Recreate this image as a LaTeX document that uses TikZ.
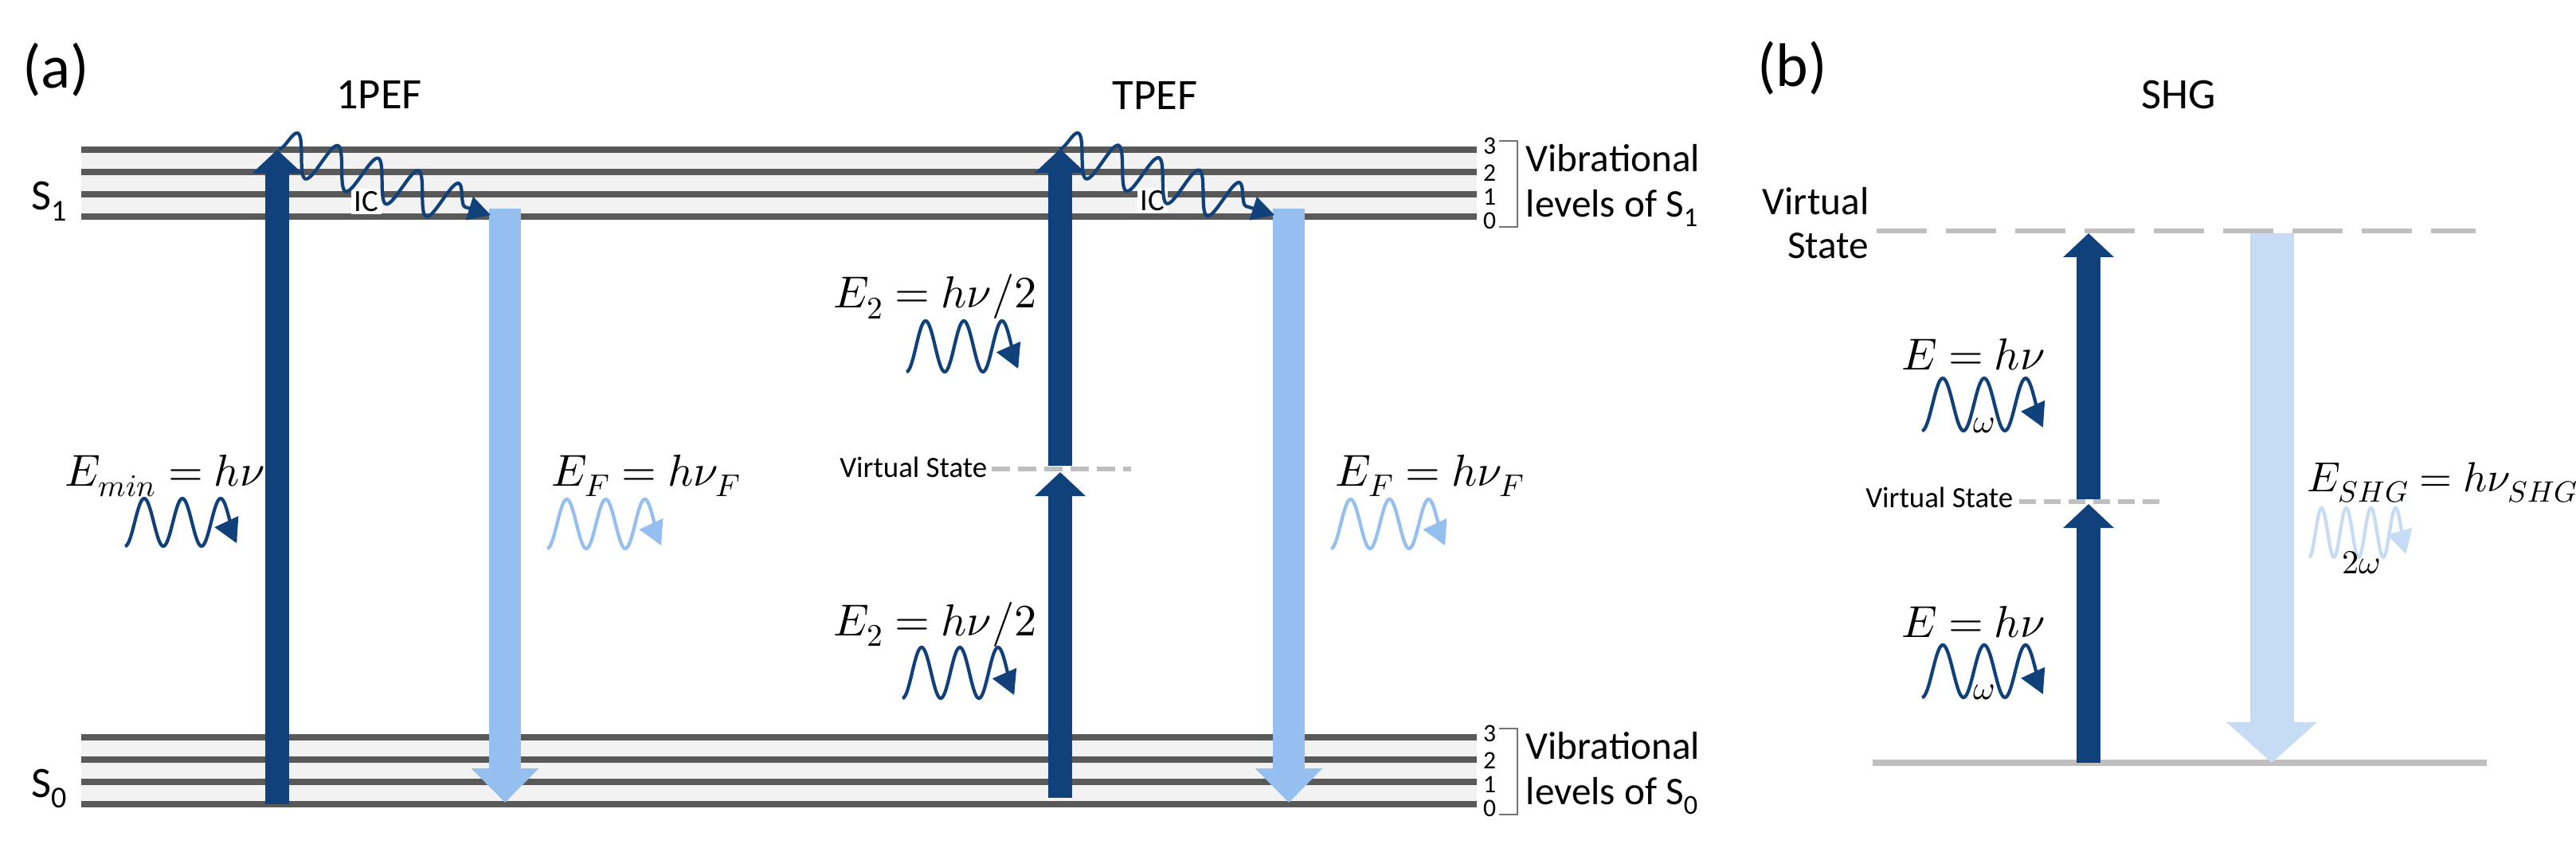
\documentclass[tikz,border=0pt]{standalone}
\usepackage{fontspec}
\usepackage{unicode-math}
\setmainfont{Carlito}
\setmathfont{Latin Modern Math}
\usepackage{tikz}
\usetikzlibrary{arrows.meta,positioning,decorations.pathmorphing}
\definecolor{cDark}{HTML}{11417A}
\definecolor{cLight}{HTML}{94BFEE}
\definecolor{cPale}{HTML}{C5DCF4}
\definecolor{cLevel}{HTML}{595959}
\definecolor{cStrip}{HTML}{F2F2F2}
\definecolor{cVirt}{HTML}{BFBFBF}
\AtBeginDocument{\thickmuskip=4.5mu\relax}
\tikzset{
  lvl/.style={cLevel, line width=2pt},
  pump/.style={cDark, line width=0.3cm, -{Triangle[length=0.3cm, width=0.62cm]}},
  emit/.style={cLight, line width=0.4cm, -{Triangle[length=0.43cm, width=0.82cm]}},
  emitshg/.style={cPale, line width=0.55cm, -{Triangle[length=0.51cm, width=1.11cm]}},
  virt/.style={cVirt, line width=1.5pt, dash pattern=on 0.23cm off 0.1cm},
  ic/.style={cDark, line width=1.2pt, decorate, decoration={snake, amplitude=0.26cm, segment length=0.53cm, post length=0.12cm}, -{Triangle[length=0.28cm, width=0.3cm]}},
  title/.style={inner sep=0pt, font=\fontsize{15.5}{18}\selectfont},
  eq/.style={inner sep=0pt, font=\fontsize{16}{19}\selectfont},
  vlab/.style={inner sep=0pt, font=\fontsize{10.5}{12}\selectfont},
  num/.style={inner sep=0pt, font=\fontsize{9}{10}\selectfont},
  vib/.style={inner sep=0pt, align=left, anchor=west, font=\fontsize{14}{16}\selectfont},
  brack/.style={black!55, line width=0.7pt},
  pics/photon/.style n args={4}{code={
    \draw[#4, line width=1.2pt, -{Triangle[length=0.3cm, width=0.32cm]}]
      plot[domain=0:#1, samples=90, smooth] ({#2*\x}, {-#3*cos(360*\x)});}},
}
\begin{document}
\begin{tikzpicture}
  \useasboundingbox (0,0) rectangle (32.34,10.59);
  \node[inner sep=0pt, font=\fontsize{22}{24}\selectfont] (pa) at (0.70,9.71) {(a)};
  \node[inner sep=0pt, font=\fontsize{22}{24}\selectfont] (pb) at (22.50,9.73) {(b)};
  \node[title] (t1) at (4.76,9.40) {1PEF};
  \node[title] (t2) at (14.50,9.39) {TPEF};
  \node[title] (t3) at (27.35,9.40) {SHG};

  \fill[cStrip] (1.02,7.87) rectangle (18.54,8.71);
  \fill[cStrip] (1.02,0.49) rectangle (18.54,1.33);
  \foreach \y in {8.71,8.43,8.15,7.87,1.33,1.05,0.77,0.49} \draw[lvl] (1.02,\y) -- (18.54,\y);
  \node[title, anchor=base east] (s1) at (0.86,7.95) {S\textsubscript{1}};
  \node[title, anchor=base east] (s0) at (0.86,0.58) {S\textsubscript{0}};
  \foreach \n/\y in {3/8.76,2/8.42,1/8.12,0/7.82} {
    \node[num] (nu\n) at (18.70,\y) {\n};
    \node[num] (nl\n) at (18.70,\y-7.38) {\n};
  }
  \draw[brack] (18.82,8.82) -- (19.05,8.82) -- (19.05,7.74) -- (18.82,7.74);
  \draw[brack] (18.82,1.44) -- (19.05,1.44) -- (19.05,0.36) -- (18.82,0.36);
  \node[vib] (vib1) at (19.15,8.26) {Vibrational\\levels of S\textsubscript{1}};
  \node[vib] (vib0) at (19.15,0.88) {Vibrational\\levels of S\textsubscript{0}};

  \coordinate (v1a) at (12.45,4.70);
  \coordinate (v1b) at (14.20,4.70);
  \coordinate (v2a) at (25.35,4.29);
  \coordinate (v2b) at (27.11,4.29);
  \coordinate (v3a) at (23.56,7.69);
  \coordinate (v3b) at (31.08,7.69);
  \coordinate (gra) at (23.51,1.01);
  \coordinate (grb) at (31.22,1.01);
  \draw[virt] (v1a) -- (v1b);
  \draw[virt, dash pattern=on 0.21cm off 0.1cm] (v2a) -- (v2b);
  \draw[virt, dash pattern=on 0.63cm off 0.24cm] (v3a) -- (v3b);
  \draw[cVirt, line width=2pt] (gra) -- (grb);
  \node[vlab, anchor=east] (vs1) at (12.40,4.72) {Virtual State};
  \node[vlab, anchor=east] (vs2) at (25.28,4.34) {Virtual State};
  \node[inner sep=0pt, anchor=east, align=right, font=\fontsize{14}{15.5}\selectfont] (vs3) at (23.47,7.79) {Virtual\\State};

  \coordinate (p1lo) at (3.48,0.49);
  \coordinate (p1hi) at (3.48,8.71);
  \coordinate (f1hi) at (6.34,7.97);
  \coordinate (f1lo) at (6.34,0.51);
  \coordinate (p2lo) at (13.31,0.57);
  \coordinate (p2vs) at (13.31,4.66);
  \coordinate (p2vt) at (13.31,4.74);
  \coordinate (p2hi) at (13.31,8.72);
  \coordinate (f2hi) at (16.18,7.97);
  \coordinate (f2lo) at (16.18,0.51);
  \coordinate (p3lo) at (26.22,1.01);
  \coordinate (p3vs) at (26.22,4.26);
  \coordinate (p3vt) at (26.22,4.32);
  \coordinate (p3hi) at (26.22,7.66);
  \coordinate (f3hi) at (28.52,7.66);
  \coordinate (f3lo) at (28.52,1.01);
  \draw[pump] (p1lo) -- (p1hi);
  \draw[emit] (f1hi) -- (f1lo);
  \draw[pump] (p2lo) -- (p2vs);
  \draw[pump] (p2vt) -- (p2hi);
  \draw[emit] (f2hi) -- (f2lo);
  \draw[pump] (p3lo) -- (p3vs);
  \draw[pump] (p3vt) -- (p3hi);
  \draw[emitshg] (f3hi) -- (f3lo);

  \node[inner sep=1pt, fill=white, font=\fontsize{11}{12}\selectfont] (ic1) at (4.60,8.06) {IC};
  \node[inner sep=1pt, fill=white, font=\fontsize{11}{12}\selectfont] (ic2) at (14.47,8.07) {IC};
  \coordinate (ic1a) at (3.50,8.72);
  \coordinate (ic1b) at (6.16,7.89);
  \coordinate (ic2a) at (13.30,8.72);
  \coordinate (ic2b) at (16.00,7.89);
  \draw[ic] (ic1a) -- (ic1b);
  \draw[ic] (ic2a) -- (ic2b);

  \node[eq, anchor=base east] (emin) at (3.33,4.49) {$E_{min} = h\nu$};
  \node[eq, anchor=base west] (ef1) at (6.92,4.49) {$E_F = h\nu_F$};
  \node[eq, anchor=base west] (ef2) at (16.76,4.49) {$E_F = h\nu_F$};
  \node[eq, anchor=base east] (e2u) at (13.02,6.72) {$E_2 = h\nu/2$};
  \node[eq, anchor=base east] (e2l) at (13.02,2.61) {$E_2 = h\nu/2$};
  \node[eq, anchor=base east] (eu) at (25.68,5.94) {$E = h\nu$};
  \node[eq, anchor=base east] (el) at (25.68,2.59) {$E = h\nu$};
  \node[eq, anchor=base west, font=\fontsize{15}{18}\selectfont] (eshg) at (28.96,4.42) {$E_{SHG} = h\nu_{SHG}$};

  \pic (ph1) at (1.57,4.03) {photon={2.92}{0.48}{0.30}{cDark}};
  \pic (ph2) at (6.87,4.01) {photon={2.92}{0.49}{0.31}{cLight}};
  \pic (ph3) at (16.71,4.01) {photon={2.92}{0.49}{0.31}{cLight}};
  \pic (ph4) at (11.38,6.24) {photon={2.92}{0.48}{0.32}{cDark}};
  \pic (ph5) at (11.33,2.14) {photon={2.92}{0.48}{0.32}{cDark}};
  \pic (ph6) at (24.13,5.51) {photon={2.92}{0.52}{0.33}{cDark}};
  \pic (ph7) at (24.13,2.16) {photon={2.92}{0.52}{0.33}{cDark}};
  \pic (ph8) at (28.99,3.90) {photon={3.92}{0.31}{0.31}{cPale}};
  \node[inner sep=0pt, font=\fontsize{12}{14}\selectfont] (w1) at (24.91,5.25) {$\omega$};
  \node[inner sep=0pt, font=\fontsize{12}{14}\selectfont] (w2) at (24.91,1.90) {$\omega$};
  \node[inner sep=0pt, font=\fontsize{12}{14}\selectfont] (w3) at (29.64,3.52) {$2\omega$};
\end{tikzpicture}
\end{document}
